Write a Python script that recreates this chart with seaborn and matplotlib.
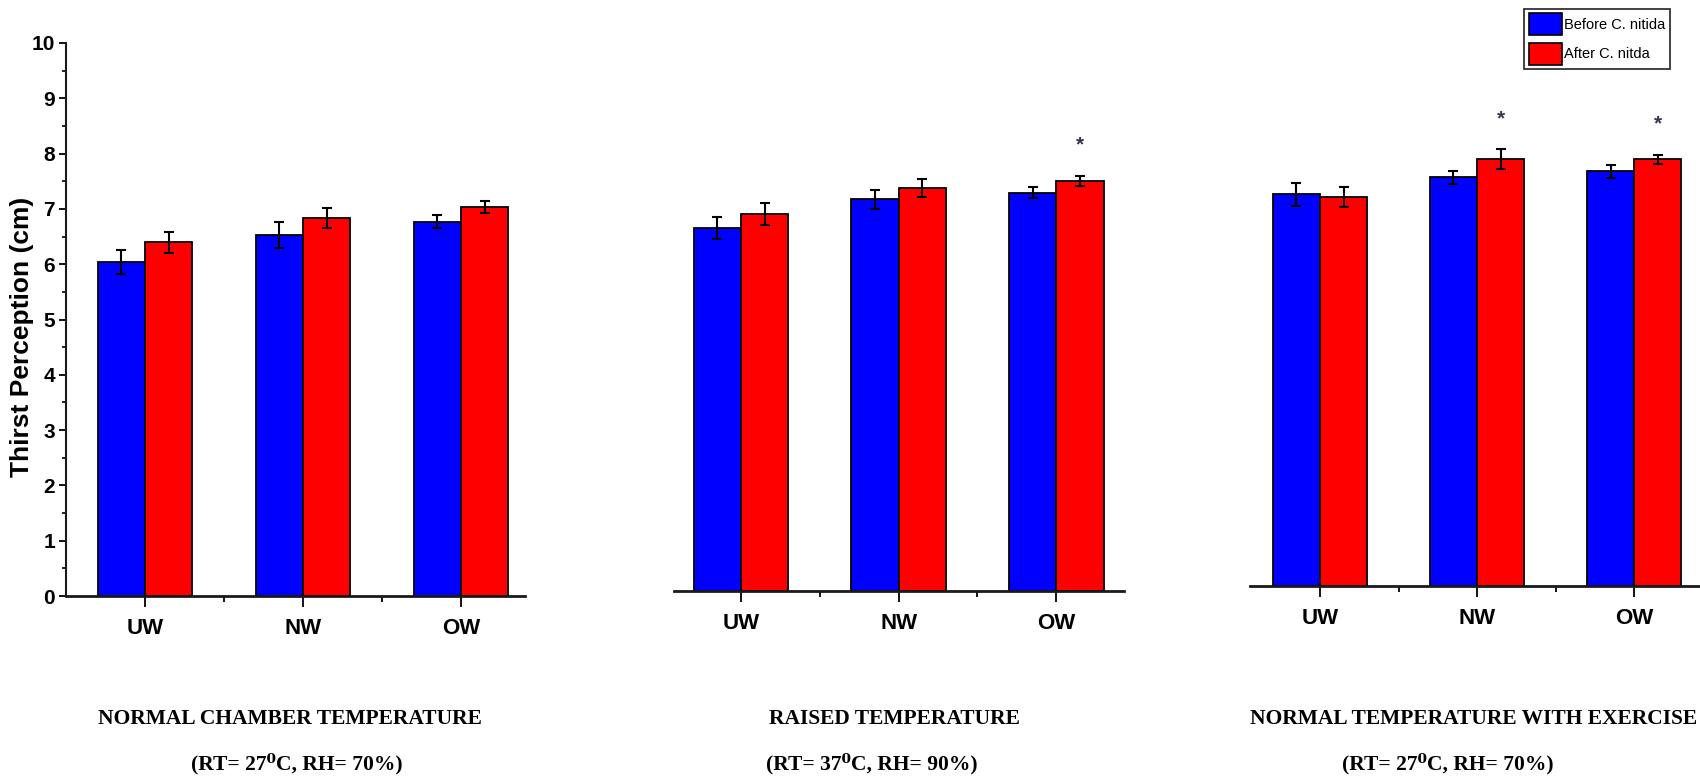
import numpy as np
import pandas as pd
import matplotlib
matplotlib.use('Agg')
import matplotlib.pyplot as plt
import seaborn as sns

# categories / labels
groups = ['UW', 'NW', 'OW']
conditions = ['Before C. nitida', 'After C. nitda']
panel_titles = ['NORMAL CHAMBER TEMPERATURE', 'RAISED TEMPERATURE', 'NORMAL TEMPERATURE WITH EXERCISE']
panel_subtitles = ['(RT= 27\u2070C, RH= 70%)', '(RT= 37\u2070C, RH= 90%)', '(RT= 27\u2070C, RH= 70%)']

# thirst perception (cm), mean and error bar
normal_before = [6.04, 6.53, 6.77]
normal_after = [6.40, 6.84, 7.03]
normal_before_err = [0.22, 0.23, 0.12]
normal_after_err = [0.19, 0.18, 0.11]

raised_before = [6.56, 7.08, 7.20]
raised_after = [6.81, 7.29, 7.42]
raised_before_err = [0.20, 0.18, 0.10]
raised_after_err = [0.20, 0.16, 0.09]

exercise_before = [7.08, 7.39, 7.50]
exercise_after = [7.03, 7.72, 7.72]
exercise_before_err = [0.20, 0.12, 0.12]
exercise_after_err = [0.18, 0.18, 0.08]

# significant after/before difference -> '*'
normal_sig = [False, False, False]
raised_sig = [False, False, True]
exercise_sig = [False, True, True]

panels = [
    (normal_before, normal_after, normal_before_err, normal_after_err, normal_sig),
    (raised_before, raised_after, raised_before_err, raised_after_err, raised_sig),
    (exercise_before, exercise_after, exercise_before_err, exercise_after_err, exercise_sig),
]

sns.set_theme(style='ticks')
sans = ['Liberation Sans', 'DejaVu Sans']
serif = ['Liberation Serif', 'DejaVu Serif']
plt.rcParams['font.family'] = sans
plt.rcParams['text.color'] = 'black'
plt.rcParams['xtick.color'] = 'black'
plt.rcParams['ytick.color'] = 'black'

W, H = 1700, 777
fig = plt.figure(figsize=(17, 7.77), dpi=100)

# axes boxes in pixels: (x_left, x_right, baseline), xlim
boxes = [(66, 525, 596, (-0.5, 2.405)),
         (674, 1124, 591, (-0.425, 2.43)),
         (1250, 1700, 586, (-0.446, 2.42))]
axis_h = 553

axes = []
for i, (before, after, berr, aerr, sig) in enumerate(panels):
    x0, x1, base, xl = boxes[i]
    ax = fig.add_axes([x0 / W, (H - base) / H, (x1 - x0) / W, axis_h / H])
    axes.append(ax)

    df = pd.DataFrame({
        'group': groups * 2,
        'condition': [conditions[0]] * 3 + [conditions[1]] * 3,
        'value': before + after,
    })
    sns.barplot(data=df, x='group', y='value', hue='condition', order=groups,
                hue_order=conditions, palette=['#0000ff', '#ff0000'], saturation=1,
                edgecolor='black', linewidth=1.3, width=0.6, errorbar=None,
                legend=(i == 2), ax=ax)

    bars = [p for p in ax.patches if p.get_height() > 0][:6]
    xs = [p.get_x() + p.get_width() / 2 for p in bars]
    vals = before + after
    errs = berr + aerr
    ax.errorbar(xs, vals, yerr=errs, fmt='none', ecolor='black',
                elinewidth=1.5, capsize=3.5, capthick=1.5, zorder=5)

    for j, s in enumerate(sig):
        if s:
            ax.text(xs[3 + j], after[j] + aerr[j] + 0.55, '*', ha='center', va='center',
                    fontsize=15, fontweight='bold', color='#34344e')

    ax.set_xlim(*xl)
    ax.set_ylim(0, 10)
    ax.set_xlabel('')
    ax.set_ylabel('')
    ax.set_xticks([0.5, 1.5], minor=True)
    ax.tick_params(axis='x', which='major', length=8, width=1.3, direction='out',
                   pad=8, labelsize=16, colors='black')
    ax.tick_params(axis='x', which='minor', length=4, width=1.3, direction='out')
    for lab in ax.get_xticklabels():
        lab.set_fontweight('bold')
    for side in ['top', 'right']:
        ax.spines[side].set_visible(False)
    ax.spines['bottom'].set_linewidth(2.0)
    ax.spines['bottom'].set_color('#1a1a1a')
    ax.patch.set_alpha(0)

    if i == 0:
        ax.set_yticks(np.arange(0, 11, 1))
        ax.set_yticks(np.arange(0.5, 10, 1), minor=True)
        ax.tick_params(axis='y', which='major', length=5, width=1.3, pad=3, labelsize=15)
        ax.tick_params(axis='y', which='minor', length=3, width=1.2)
        for lab in ax.get_yticklabels():
            lab.set_fontweight('bold')
        ax.spines['left'].set_linewidth(1.5)
        ax.spines['left'].set_color('#1a1a1a')
    else:
        ax.spines['left'].set_visible(False)
        ax.set_yticks([])

fig.text(22 / W, 1 - 337 / H, 'Thirst Perception (cm)', rotation=90, ha='center',
         va='center', fontsize=19, fontweight='bold', color='black')

title_x = [290, 894, 1474]
sub_x = [297, 872, 1448]
for i in range(3):
    fig.text(title_x[i] / W, 1 - 719 / H, panel_titles[i], ha='center', va='center',
             fontsize=15.5, fontweight='bold', family=serif, color='black')
    fig.text(sub_x[i] / W, 1 - 764 / H, panel_subtitles[i], ha='center', va='center',
             fontsize=15.5, fontweight='bold', family=serif, color='black')

sns.move_legend(axes[2], 'upper right', bbox_to_anchor=(1670 / W, 1 - 9 / H),
                bbox_transform=fig.transFigure, title=None, frameon=True,
                fancybox=False, edgecolor='black', borderaxespad=0,
                handlelength=2.3, handleheight=1.9, handletextpad=0.15,
                labelspacing=0.55, borderpad=0.3,
                prop={'family': sans, 'size': 10.5})
leg = axes[2].get_legend()
leg.get_frame().set_linewidth(1.3)
for h in leg.legend_handles:
    h.set_edgecolor('black')
    h.set_linewidth(1.2)

fig.savefig('out.png', dpi=100)
